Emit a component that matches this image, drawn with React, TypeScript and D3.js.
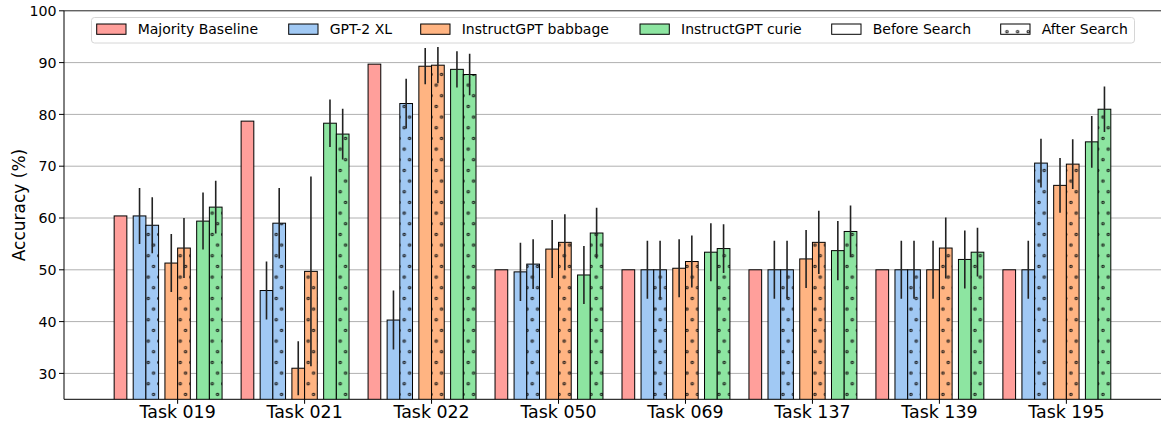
import React from "react";
import * as d3 from "d3";

const tasks = ["Task 019", "Task 021", "Task 022", "Task 050", "Task 069", "Task 137", "Task 139", "Task 195"];
const majority = [60.4, 78.7, 89.7, 50, 50, 50, 50, 50];
const gpt2Before = [60.4, 46.0, 40.3, 49.6, 50.0, 50.0, 50.0, 50.0];
const gpt2BeforeErr = [5.4, 5.6, 5.7, 5.6, 5.6, 5.6, 5.6, 5.6];
const gpt2After = [58.6, 59.0, 82.1, 51.1, 50.0, 50.0, 50.0, 70.6];
const gpt2AfterErr = [5.4, 6.8, 4.8, 4.8, 5.6, 5.6, 5.6, 4.7];
const babbageBefore = [51.3, 31.0, 89.3, 54.0, 50.3, 52.1, 50.0, 66.3];
const babbageBeforeErr = [5.6, 5.2, 3.5, 5.6, 5.6, 5.6, 5.6, 5.3];
const babbageAfter = [54.2, 49.7, 89.5, 55.3, 51.6, 55.3, 54.2, 70.4];
const babbageAfterErr = [5.8, 18.3, 3.5, 5.4, 5.0, 6.1, 5.9, 4.8];
const curieBefore = [59.4, 78.3, 88.7, 49.0, 53.4, 53.7, 52.0, 74.7];
const curieBeforeErr = [5.5, 4.6, 3.5, 5.6, 5.6, 5.7, 5.6, 5.0];
const curieAfter = [62.1, 76.2, 87.7, 57.1, 54.1, 57.4, 53.4, 81.0];
const curieAfterErr = [5.1, 4.9, 4.0, 4.9, 4.7, 5.0, 4.7, 4.4];
const yTicks = [30, 40, 50, 60, 70, 80, 90, 100];

const legendLabels = ["Majority Baseline", "GPT-2 XL", "InstructGPT babbage", "InstructGPT curie", "Before Search", "After Search"];

const COLORS = {
  majority: "#ff9f9b",
  gpt2: "#a1c9f4",
  babbage: "#ffb482",
  curie: "#8de5a1",
};

type Series = { values: number[]; err: number[] | null; color: string; hatch: boolean; offset: number };

const series: Series[] = [
  { values: majority, err: null, color: COLORS.majority, hatch: false, offset: -0.5 },
  { values: gpt2Before, err: gpt2BeforeErr, color: COLORS.gpt2, hatch: false, offset: -0.35 },
  { values: gpt2After, err: gpt2AfterErr, color: COLORS.gpt2, hatch: true, offset: -0.25 },
  { values: babbageBefore, err: babbageBeforeErr, color: COLORS.babbage, hatch: false, offset: -0.1 },
  { values: babbageAfter, err: babbageAfterErr, color: COLORS.babbage, hatch: true, offset: 0 },
  { values: curieBefore, err: curieBeforeErr, color: COLORS.curie, hatch: false, offset: 0.15 },
  { values: curieAfter, err: curieAfterErr, color: COLORS.curie, hatch: true, offset: 0.25 },
];

const W = 1161;
const H = 421;
const LEFT = 64;
const TOP = 10.8;
const BOTTOM = 399.3;
const BAR_W = 0.1;
const FONT = "DejaVu Sans, sans-serif";

export default function App() {
  const x = d3.scaleLinear().domain([-0.895, 7.895]).range([LEFT, 1180]);
  const y = d3.scaleLinear().domain([25, 100]).range([BOTTOM, TOP]);
  const bw = x(BAR_W) - x(0);

  const legendPatchX = [96.7, 288.7, 420.7, 640, 831.7, 1000.7];
  const legendFill = [COLORS.majority, COLORS.gpt2, COLORS.babbage, COLORS.curie, "#ffffff", "#ffffff"];

  return (
    <svg
      width={W}
      height={H}
      style={{ position: "absolute", left: 0, top: 0, background: "#fff" }}
      fontFamily={FONT}
    >
      <defs>
        <pattern id="dots" patternUnits="userSpaceOnUse" x={1105.6} y={122.4} width={10.667} height={21.333}>
          <circle cx={2.67} cy={5.33} r={1.2} fill="none" stroke="#111" strokeWidth={1.05} />
          <circle cx={8.0} cy={16.0} r={1.2} fill="none" stroke="#111" strokeWidth={1.05} />
        </pattern>
        <clipPath id="plotclip">
          <rect x={LEFT} y={TOP} width={W - LEFT} height={BOTTOM - TOP} />
        </clipPath>
      </defs>
      <rect x={0} y={0} width={W} height={H} fill="#fff" />

      {/* grid */}
      {yTicks.filter((t) => t < 100).map((t) => (
        <line key={"g" + t} x1={LEFT} x2={W} y1={y(t)} y2={y(t)} stroke="#b0b0b0" strokeWidth={1} />
      ))}

      {/* bars */}
      <g clipPath="url(#plotclip)">
        {series.map((s, si) =>
          s.values.map((v, i) => {
            const x0 = x(i + s.offset);
            const y0 = y(v);
            const h = y(25) - y0;
            return (
              <g key={`b${si}-${i}`}>
                <rect x={x0} y={y0} width={bw} height={h + 2} fill={s.color} />
                {s.hatch && <rect x={x0} y={y0} width={bw} height={h + 2} fill="url(#dots)" />}
                <rect x={x0} y={y0} width={bw} height={h + 2} fill="none" stroke="#000" strokeWidth={1} />
              </g>
            );
          })
        )}
        {series.map((s, si) =>
          s.err
            ? s.values.map((v, i) => {
                const cx = x(i + s.offset + BAR_W / 2);
                const e = s.err![i];
                return (
                  <line
                    key={`e${si}-${i}`}
                    x1={cx}
                    x2={cx}
                    y1={y(v + e)}
                    y2={y(v - e)}
                    stroke="#222"
                    strokeWidth={1.6}
                  />
                );
              })
            : null
        )}
      </g>

      {/* spines */}
      <line x1={LEFT} x2={W} y1={TOP} y2={TOP} stroke="#222" strokeWidth={1} />
      <line x1={LEFT} x2={W} y1={BOTTOM} y2={BOTTOM} stroke="#000" strokeWidth={1} />
      <line x1={LEFT} x2={LEFT} y1={TOP} y2={BOTTOM} stroke="#000" strokeWidth={1} />

      {/* y ticks */}
      {yTicks.map((t) => (
        <g key={"yt" + t}>
          <line x1={LEFT - 5} x2={LEFT} y1={y(t)} y2={y(t)} stroke="#000" strokeWidth={1} />
          <text x={LEFT - 7.5} y={y(t)} dy="0.36em" textAnchor="end" fontSize={14.2} fill="#000">
            {t}
          </text>
        </g>
      ))}
      <text
        transform={`translate(24.5, ${(TOP + BOTTOM) / 2}) rotate(-90)`}
        textAnchor="middle"
        fontSize={17}
        fill="#000"
      >
        Accuracy (%)
      </text>

      {/* x ticks */}
      {tasks.map((t, i) => (
        <g key={"xt" + t}>
          <line x1={x(i)} x2={x(i)} y1={BOTTOM} y2={BOTTOM + 4.5} stroke="#000" strokeWidth={1} />
          <text x={x(i)} y={417.5} textAnchor="middle" fontSize={17.4} fill="#000">
            {t}
          </text>
        </g>
      ))}

      {/* legend */}
      <rect x={91.5} y={17.5} width={1043} height={25.5} rx={3} fill="#fff" fillOpacity={0.8} stroke="#d6d6d6" strokeWidth={1} />
      {legendLabels.map((lab, i) => (
        <g key={"lg" + lab}>
          <rect x={legendPatchX[i]} y={24} width={29.3} height={10.3} fill={legendFill[i]} />
          {i === 5 && <rect x={legendPatchX[i]} y={24} width={29.3} height={10.3} fill="url(#dots)" />}
          <rect x={legendPatchX[i]} y={24} width={29.3} height={10.3} fill="none" stroke="#000" strokeWidth={1} />
          <text x={legendPatchX[i] + 41} y={34.3} fontSize={14} fill="#000">
            {lab}
          </text>
        </g>
      ))}
    </svg>
  );
}
